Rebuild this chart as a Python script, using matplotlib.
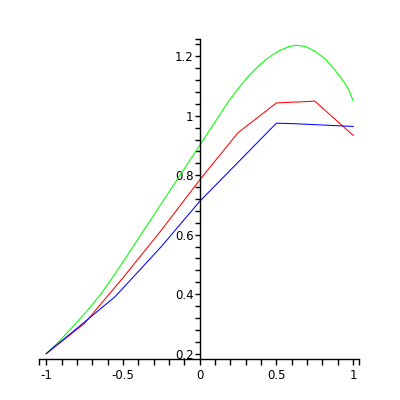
import matplotlib
matplotlib.use("Agg")
import matplotlib.pyplot as plt
import numpy as np

plt.rcParams['axes.unicode_minus'] = False
plt.rcParams['font.family'] = 'DejaVu Sans'

# values
green_x = [-1.0, -0.907, -0.821, -0.734, -0.647, -0.571, -0.495, -0.430, -0.365, -0.300, -0.235, -0.184,
           -0.126, -0.028, 0.0, 0.059, 0.124, 0.189, 0.254, 0.319, 0.384, 0.450, 0.515, 0.580, 0.625,
           0.689, 0.754, 0.819, 0.884, 0.938, 0.971, 1.0]
green_y = [0.2, 0.246, 0.294, 0.344, 0.398, 0.454, 0.512, 0.563, 0.614, 0.665, 0.716, 0.756,
           0.802, 0.878, 0.900, 0.947, 0.998, 1.049, 1.093, 1.134, 1.168, 1.196, 1.218, 1.232, 1.237,
           1.233, 1.216, 1.190, 1.152, 1.115, 1.088, 1.050]

red_x = [-1.0, -0.75, -0.5, -0.25, 0.0, 0.25, 0.5, 0.75, 1.0]
red_y = [0.2, 0.302, 0.455, 0.615, 0.784, 0.943, 1.043, 1.049, 0.934]

blue_x = [-1.0, -0.8, -0.55, -0.25, 0.0, 0.5, 0.625, 0.75, 0.875, 1.0]
blue_y = [0.2, 0.285, 0.392, 0.560, 0.712, 0.975, 0.973, 0.970, 0.967, 0.964]

x_ticks = [-1, -0.5, 0, 0.5, 1]
x_labels = ["-1", "-0.5", "0", "0.5", "1"]
y_ticks = [0.2, 0.4, 0.6, 0.8, 1.0, 1.2]
y_labels = ["0.2", "0.4", "0.6", "0.8", "1", "1.2"]

XLIM = (-1.045, 1.04)
YLIM = (0.181, 1.258)

fig = plt.figure(figsize=(4, 4), dpi=100)
ax = fig.add_axes([39.3 / 400, 1 - 359.3 / 400, 320 / 400, 320.3 / 400])

ax.plot(green_x, green_y, color='#00ff00', lw=0.75)
ax.plot(red_x, red_y, color='#ff0000', lw=0.75)
ax.plot(blue_x, blue_y, color='#0000ff', lw=0.75)

ax.set_xlim(*XLIM)
ax.set_ylim(*YLIM)

for s in ['top', 'right']:
    ax.spines[s].set_visible(False)
ax.spines['left'].set_position(('data', 0))
ax.spines['bottom'].set_position(('data', YLIM[0]))
ax.spines['left'].set_bounds(YLIM[0], YLIM[1])
for s in ['left', 'bottom']:
    ax.spines[s].set_linewidth(1.0)
    ax.spines[s].set_color('black')

ax.set_xticks(x_ticks)
ax.set_xticklabels(x_labels)
ax.set_yticks(y_ticks)
ax.set_yticklabels(y_labels)
x_minor = [v for v in np.round(np.arange(-1, 1.001, 0.1), 2) if v not in x_ticks] + list(XLIM)
y_minor = [v for v in np.round(np.arange(0.2, 1.25, 0.04), 2) if v not in y_ticks] + [YLIM[1]]
ax.set_xticks(x_minor, minor=True)
ax.set_yticks(y_minor, minor=True)

ax.tick_params(axis='x', which='both', direction='out', length=4.2, width=1, labelsize=8.5, pad=3)
ax.tick_params(axis='y', which='both', direction='out', length=3.4, width=1, labelsize=8.5, pad=1)

fig.savefig("out.png", dpi=100)
